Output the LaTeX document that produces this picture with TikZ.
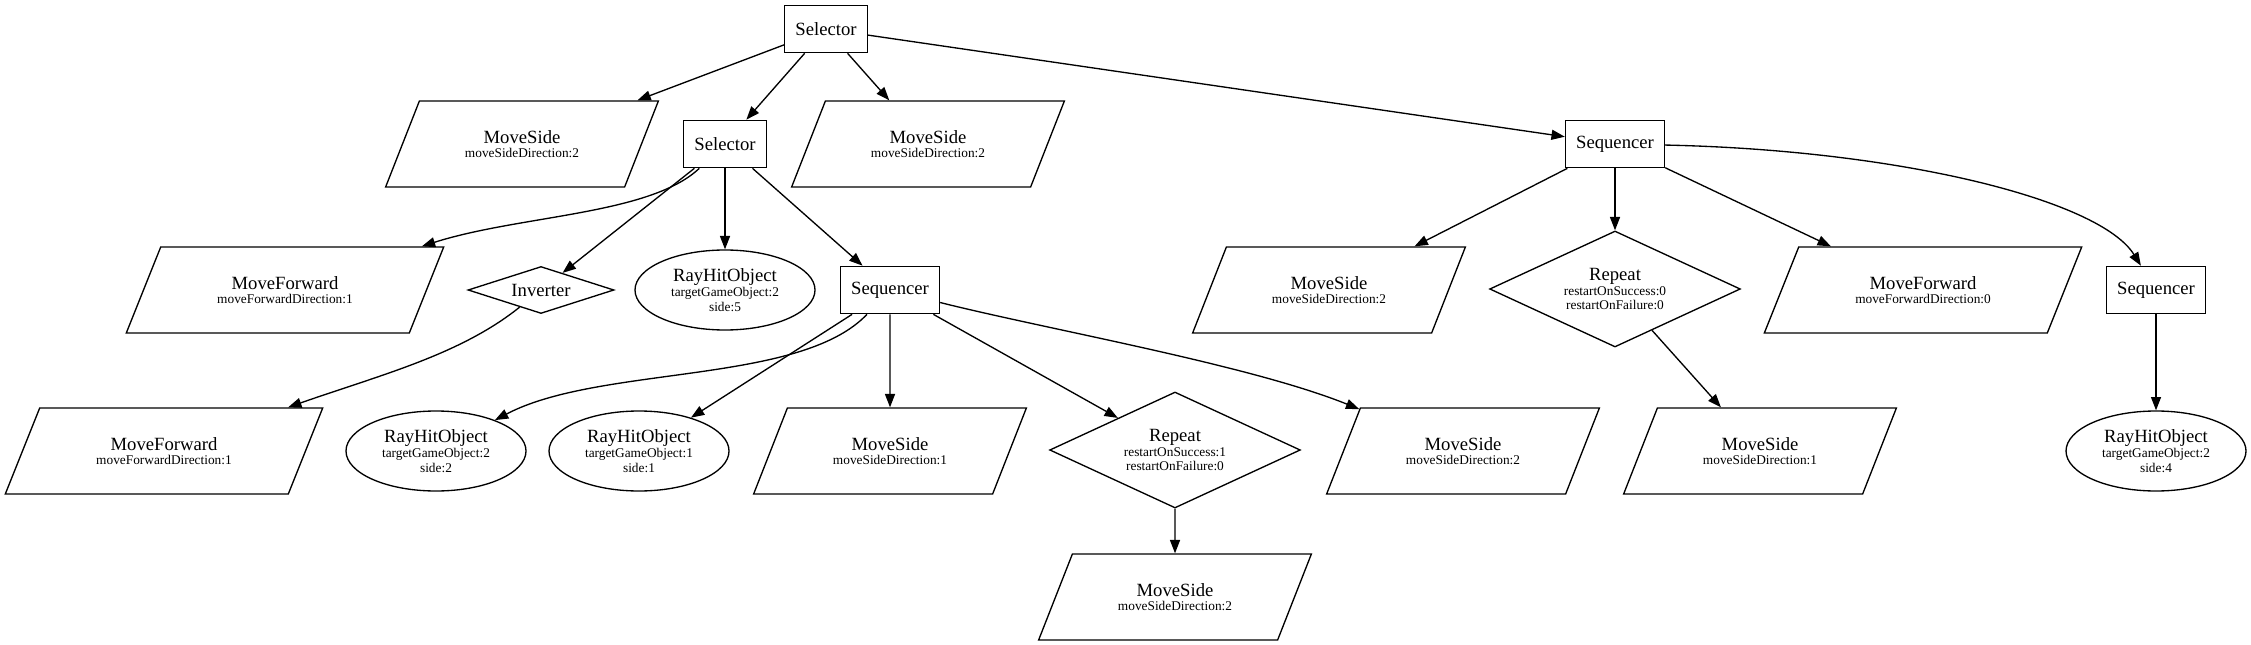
\documentclass[tikz,border=0pt]{standalone}
\usepackage{fontspec}
\setmainfont{Liberation Serif}
\usetikzlibrary{arrows.meta,shapes.geometric}
\newcommand\prm[1]{{\fontsize{10}{11}\selectfont #1}}

\begin{document}
\begin{tikzpicture}[
  x=0.75pt, y=-0.75pt,
  font=\fontsize{14}{11}\selectfont,
  line width=1pt,
  ctl/.style={draw,rectangle,inner xsep=8pt,minimum height=35.5pt},
  act/.style={draw,trapezium,trapezium left angle=56,trapezium right angle=124,trapezium stretches=true,align=center,inner sep=0pt,minimum height=64.5pt,minimum width=204.75pt},
  fwd/.style={act,minimum width=238.5pt},
  cnd/.style={draw,ellipse,align=center,inner sep=0pt,minimum width=135pt,minimum height=60pt},
  notbox/.style={draw,diamond,aspect=3.1,inner sep=0pt,minimum width=109.5pt,minimum height=35.25pt},
  loopbox/.style={draw,diamond,aspect=2.16,align=center,inner sep=0pt,minimum width=188pt,minimum height=87pt},
  >={Triangle[length=10pt,width=7.5pt]}]
\useasboundingbox (0,0) rectangle (2251,645);
% top level
\node[ctl] (sel0) at (826,29) {Selector};
\node[act] (msA) at (522,144) {MoveSide\\\prm{moveSideDirection:2}};
\node[ctl] (sel1) at (725,144) {Selector};
\node[act] (msB) at (928,144) {MoveSide\\\prm{moveSideDirection:2}};
\node[ctl] (seq0) at (1615,144) {Sequencer};
% second row
\node[fwd] (mfA) at (285,290) {MoveForward\\\prm{moveForwardDirection:1}};
\node[notbox] (inv) at (541,290) {Inverter};
\node[cnd] (rayA) at (725,290) {RayHitObject\\\prm{targetGameObject:2}\\\prm{side:5}};
\node[ctl] (seq1) at (890,290) {Sequencer};
\node[act] (msC) at (1329,290) {MoveSide\\\prm{moveSideDirection:2}};
\node[loopbox] (rep0) at (1615,289) {Repeat\\\prm{restartOnSuccess:0}\\\prm{restartOnFailure:0}};
\node[fwd] (mfB) at (1923,290) {MoveForward\\\prm{moveForwardDirection:0}};
\node[ctl] (seq2) at (2156,290) {Sequencer};
% third row
\node[fwd] (mfC) at (164,451) {MoveForward\\\prm{moveForwardDirection:1}};
\node[cnd] (rayB) at (436,451) {RayHitObject\\\prm{targetGameObject:2}\\\prm{side:2}};
\node[cnd] (rayC) at (639,451) {RayHitObject\\\prm{targetGameObject:1}\\\prm{side:1}};
\node[act] (msD) at (890,451) {MoveSide\\\prm{moveSideDirection:1}};
\node[loopbox] (rep1) at (1175,450) {Repeat\\\prm{restartOnSuccess:1}\\\prm{restartOnFailure:0}};
\node[act] (msE) at (1463,451) {MoveSide\\\prm{moveSideDirection:2}};
\node[act] (msF) at (1760,451) {MoveSide\\\prm{moveSideDirection:1}};
\node[cnd] (rayD) at (2156,451) {RayHitObject\\\prm{targetGameObject:2}\\\prm{side:4}};
% last row
\node[act] (msG) at (1175,597) {MoveSide\\\prm{moveSideDirection:2}};
% edges
\draw[->] (sel0) -- (msA);
\draw[->] (sel0) -- (sel1);
\draw[->] (sel0) -- (msB);
\draw[->] (sel0) -- (seq0);
\draw[->] (sel1) .. controls (650,215) and (520,215) .. (mfA);
\draw[->] (sel1) -- (inv);
\draw[->] (sel1) -- (rayA);
\draw[->] (sel1) -- (seq1);
\draw[->] (inv) .. controls (460,355) and (380,375) .. (mfC);
\draw[->] (seq1) .. controls (800,385) and (600,365) .. (rayB);
\draw[->] (seq1) -- (rayC);
\draw[->] (seq1) -- (msD);
\draw[->] (seq1) -- (rep1);
\draw[->] (seq1) .. controls (1050,330) and (1250,365) .. (msE);
\draw[->] (rep1) -- (msG);
\draw[->] (seq0) -- (msC);
\draw[->] (seq0) -- (rep0);
\draw[->] (seq0) -- (mfB);
\draw[->] (seq0) .. controls (1900,150) and (2100,200) .. (seq2);
\draw[->] (rep0) -- (msF);
\draw[->] (seq2) -- (rayD);
\end{tikzpicture}
\end{document}
